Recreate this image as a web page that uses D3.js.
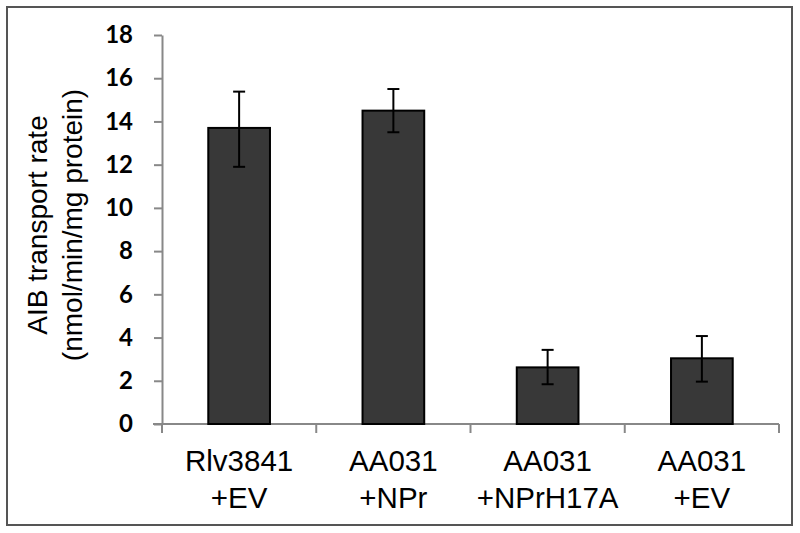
<!DOCTYPE html>
<html><head><meta charset="utf-8">
<script src="https://cdn.jsdelivr.net/npm/d3@7"></script>
<style>html,body{margin:0;padding:0;background:#fff;}</style>
</head><body>
<svg id="c" width="800" height="533"></svg>
<script>
const categories = [["Rlv3841","+EV"],["AA031","+NPr"],["AA031","+NPrH17A"],["AA031","+EV"]];
const values = [13.7, 14.5, 2.62, 3.04];
const errLow = [11.9, 13.5, 1.84, 1.96];
const errHigh = [15.38, 15.5, 3.43, 4.07];
const yTicks = [0,2,4,6,8,10,12,14,16,18];

const svg = d3.select("#c");
svg.append("rect").attr("x",7).attr("y",7).attr("width",785).attr("height",518)
  .attr("fill","#fff").attr("stroke","#555").attr("stroke-width",2);

const x0 = 162, x1 = 779, yTop = 35, yBot = 424;
const idx = d3.range(categories.length);
const x = d3.scaleBand().domain(idx).range([x0,x1]).paddingInner(0.6).paddingOuter(0.3);
const y = d3.scaleLinear().domain([0,18]).range([yBot,yTop]);

// y axis
const ya = svg.append("g").attr("transform",`translate(${x0},0)`)
  .call(d3.axisLeft(y).tickValues(yTicks).tickSize(8).tickSizeOuter(0).tickPadding(21));
ya.select(".domain").attr("stroke","#888").attr("stroke-width",2);
ya.selectAll(".tick line").attr("stroke","#888").attr("stroke-width",2);
ya.selectAll(".tick text").attr("font-family","Lato").attr("font-weight","700")
  .attr("font-size",24).attr("fill","#000");

// x axis line & ticks at boundaries
const bounds = d3.range(categories.length+1).map(i => x0 + i*(x1-x0)/categories.length);
svg.append("line").attr("x1",x0-9).attr("x2",x1).attr("y1",yBot).attr("y2",yBot)
  .attr("stroke","#888").attr("stroke-width",2);
svg.selectAll(".xt").data(bounds).enter().append("line")
  .attr("x1",d=>d).attr("x2",d=>d).attr("y1",yBot).attr("y2",yBot+9)
  .attr("stroke","#888").attr("stroke-width",2);

// bars
svg.selectAll(".bar").data(idx).enter().append("rect")
  .attr("x",i=>x(i)).attr("width",x.bandwidth())
  .attr("y",i=>y(values[i])).attr("height",i=>y(0)-y(values[i]))
  .attr("fill","#383838").attr("stroke","#000").attr("stroke-width",2);

// error bars
const cap = 6;
const eb = svg.selectAll(".eb").data(idx).enter().append("g");
eb.append("line").attr("x1",i=>x(i)+x.bandwidth()/2).attr("x2",i=>x(i)+x.bandwidth()/2)
  .attr("y1",i=>y(errLow[i])).attr("y2",i=>y(errHigh[i])).attr("stroke","#000").attr("stroke-width",2);
eb.append("line").attr("x1",i=>x(i)+x.bandwidth()/2-cap).attr("x2",i=>x(i)+x.bandwidth()/2+cap)
  .attr("y1",i=>y(errLow[i])).attr("y2",i=>y(errLow[i])).attr("stroke","#000").attr("stroke-width",2);
eb.append("line").attr("x1",i=>x(i)+x.bandwidth()/2-cap).attr("x2",i=>x(i)+x.bandwidth()/2+cap)
  .attr("y1",i=>y(errHigh[i])).attr("y2",i=>y(errHigh[i])).attr("stroke","#000").attr("stroke-width",2);

// category labels
const cl = svg.selectAll(".cl").data(idx).enter().append("text")
  .attr("text-anchor","middle").attr("font-family","Liberation Sans, Arial").attr("font-size",29.5).attr("fill","#000");
cl.append("tspan").attr("x",i=>x(i)+x.bandwidth()/2).attr("y",471).text(i=>categories[i][0]);
cl.append("tspan").attr("x",i=>x(i)+x.bandwidth()/2).attr("y",508).text(i=>categories[i][1]);

// y title
const yc = 225;
const yt = svg.append("text").attr("transform",`translate(0,${yc}) rotate(-90)`)
  .attr("text-anchor","middle").attr("font-family","Liberation Sans, Arial").attr("font-size",28).attr("fill","#000");
yt.append("tspan").attr("x",0).attr("y",47).text("AIB transport rate");
yt.append("tspan").attr("x",0).attr("y",82).text("(nmol/min/mg protein)");
</script>
</body></html>
